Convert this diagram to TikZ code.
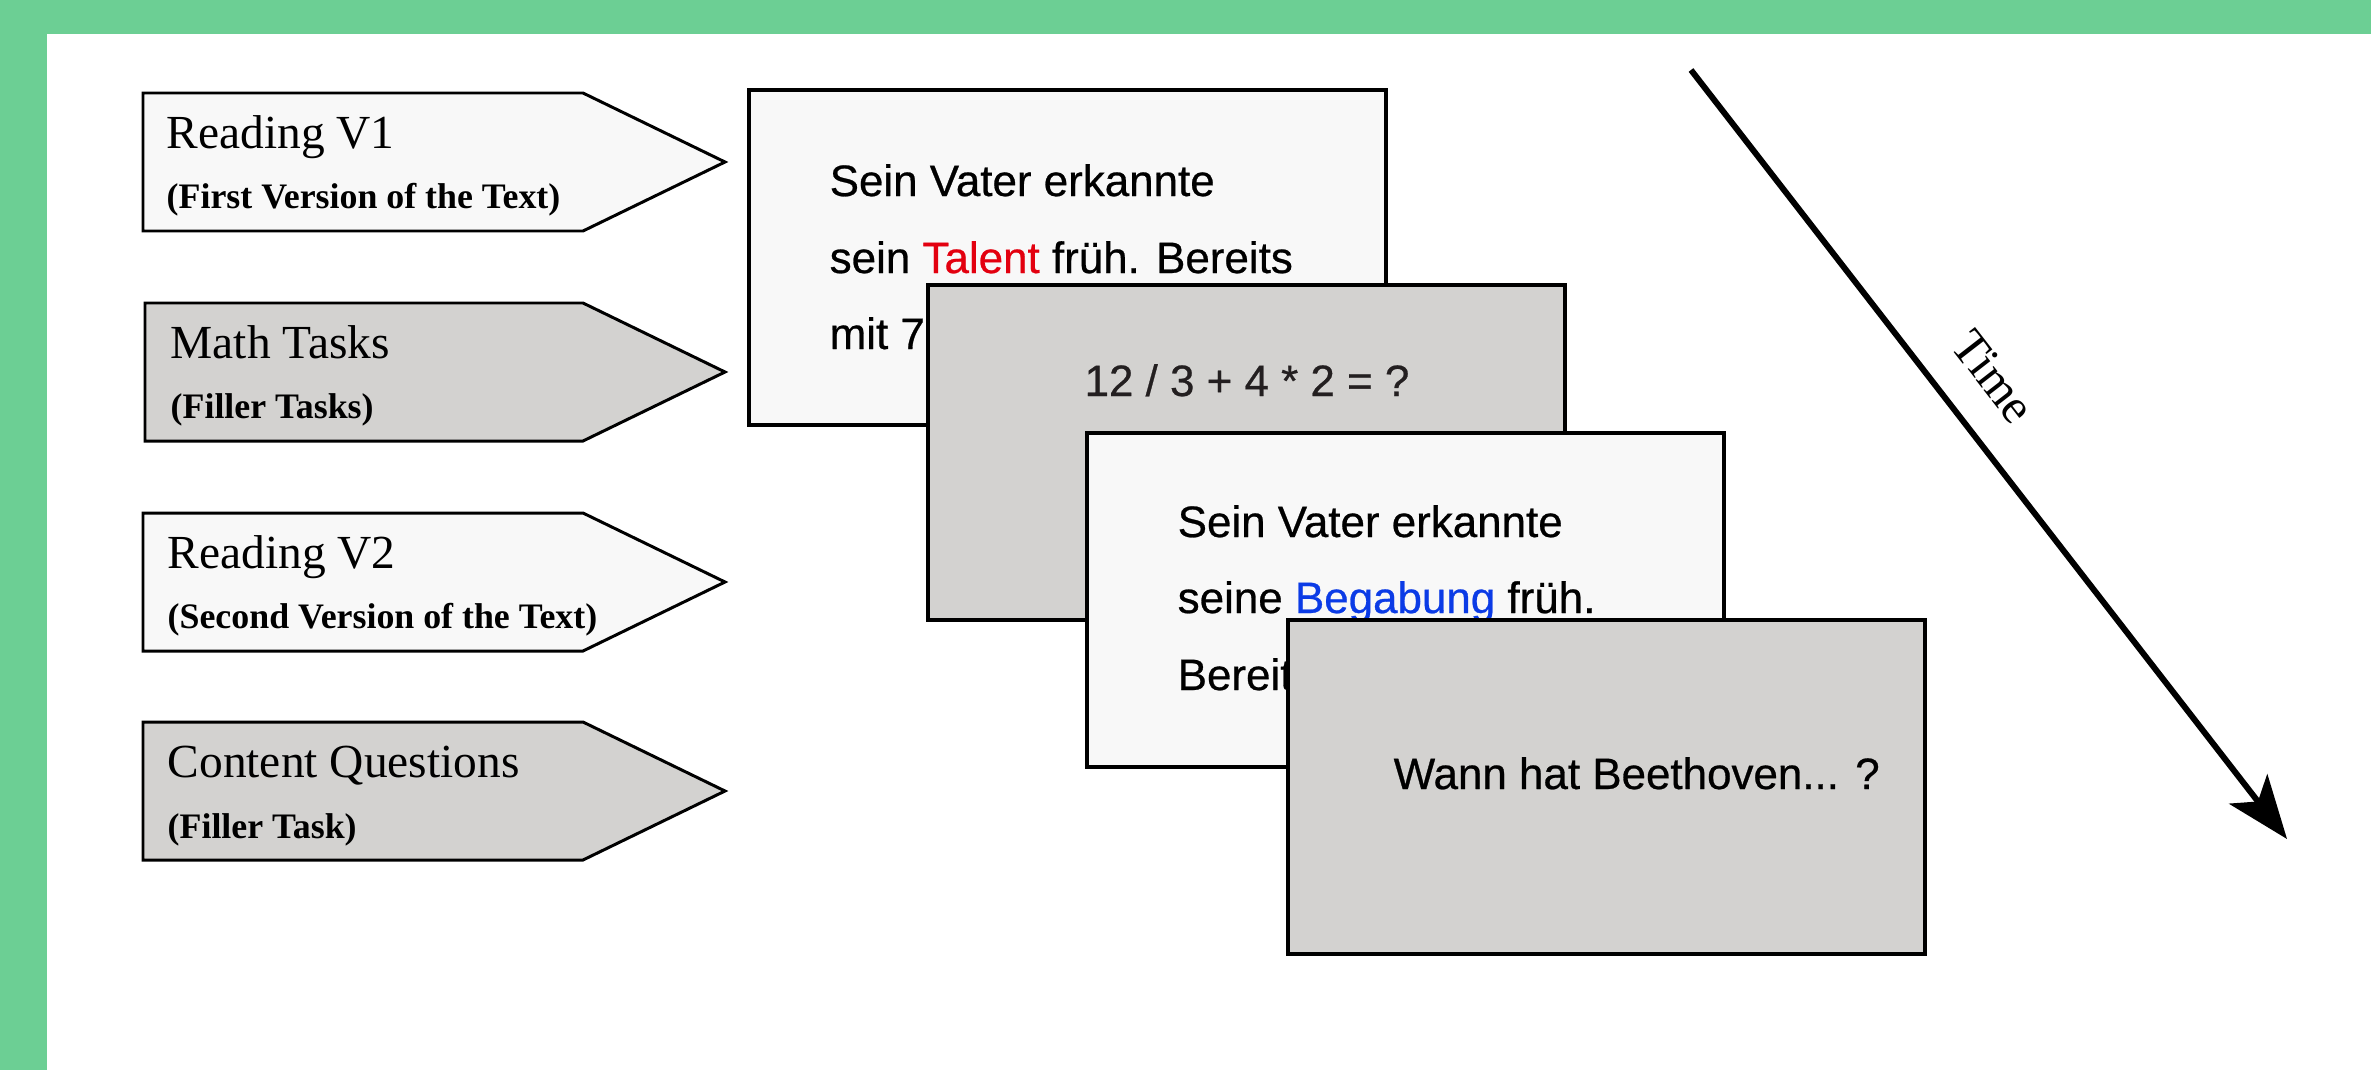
\documentclass[tikz,border=0pt]{standalone}
\usepackage{fontspec}
\setmainfont{Liberation Serif}
\newfontfamily\cardfont[FakeBold=0.6]{Liberation Sans}
\usetikzlibrary{arrows.meta}

\definecolor{framegreen}{HTML}{6CCF94}
\definecolor{paper}{HTML}{F8F8F8}
\definecolor{filler}{HTML}{D3D2D0}
\definecolor{talentred}{HTML}{E3000F}
\definecolor{begabungblue}{HTML}{0B3BE6}
\definecolor{mathink}{HTML}{231F20}

\tikzset{
  tag/.style={draw=black, line width=0.85pt, line join=miter},
  card/.style={draw=black, line width=1.3pt},
  taglabel/.style={anchor=base west, inner sep=0pt, font=\fontsize{13.5}{16}\selectfont},
  tagnote/.style={anchor=base west, inner sep=0pt, font=\bfseries\fontsize{10.2}{12}\selectfont},
  cardtext/.style={anchor=base west, inner sep=0pt, font=\cardfont\fontsize{12.5}{15}\selectfont},
  timearrow/.style={line width=1.7pt, -{Stealth[length=18pt, width=13.7pt, inset=4.5pt]}}
}

\begin{document}
\begin{tikzpicture}[x=0.1mm, y=-0.1mm]

  \useasboundingbox (0,0) rectangle (2371,1070);
  \fill[white] (0,0) rectangle (2371,1070);
  \fill[framegreen] (0,0) rectangle (2371,34);
  \fill[framegreen] (0,0) rectangle (47,1070);

  % phases on the left
  \draw[tag, fill=paper] (143,93) -- (583,93) -- (725,162) -- (583,231) -- (143,231) -- cycle;
  \node[taglabel] (read1) at (166,148) {Reading V1};
  \node[tagnote] (read1note) at (166,208) {(First Version of the Text)};

  \draw[tag, fill=filler] (145,303) -- (583,303) -- (725,372) -- (583,441) -- (145,441) -- cycle;
  \node[taglabel] (math) at (170,358) {Math Tasks};
  \node[tagnote] (mathnote) at (170,418) {(Filler Tasks)};

  \draw[tag, fill=paper] (143,513) -- (583,513) -- (725,582) -- (583,651) -- (143,651) -- cycle;
  \node[taglabel] (read2) at (167,568) {Reading V2};
  \node[tagnote] (read2note) at (167,628) {(Second Version of the Text)};

  \draw[tag, fill=filler] (143,722) -- (583,722) -- (725,791) -- (583,860) -- (143,860) -- cycle;
  \node[taglabel] (quest) at (167,777) {Content Questions};
  \node[tagnote] (questnote) at (167,838) {(Filler Task)};

  % stacked screens
  \draw[card, fill=paper] (749,90) rectangle (1386,425);
  \node[cardtext] (text1a) at (829,196) {Sein Vater erkannte};
  \node[cardtext] (text1b) at (829,273) {sein \textcolor{talentred}{Talent} früh. Bereits};
  \node[cardtext] (text1c) at (829,349) {mit 7};

  \draw[card, fill=filler] (928,285) rectangle (1565,620);
  \node[cardtext, anchor=base, text=mathink] (sum) at (1247,396) {12 / 3 + 4 * 2 = ?};

  \draw[card, fill=paper] (1087,433) rectangle (1724,767);
  \node[cardtext] (text2a) at (1177,537) {Sein Vater erkannte};
  \node[cardtext] (text2b) at (1177,613) {seine \textcolor{begabungblue}{Begabung} früh.};
  \node[cardtext] (text2c) at (1177,690) {Bereits};

  \draw[card, fill=filler] (1288,620) rectangle (1925,954);
  \node[cardtext] (ask) at (1393,789) {Wann hat Beethoven... ?};

  % time axis
  \coordinate (tstart) at (1691,70);
  \coordinate (tend) at (2287,839);
  \draw[timearrow] (tstart) -- (tend)
    node[pos=0.44, sloped, above=9pt, inner sep=0pt, font=\fontsize{14}{16}\selectfont] (time) {Time};

\end{tikzpicture}
\end{document}
